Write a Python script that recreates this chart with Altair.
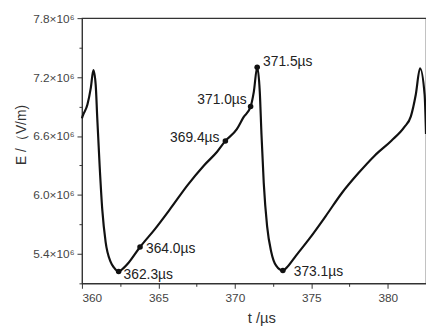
import altair as alt
import pandas as pd

# waveform (t in µs, E in 10^6 V/m)
t_vals = [360.00, 360.04, 360.36, 360.58, 360.75, 360.90, 361.00, 361.16, 361.33, 361.55,
          361.87, 362.10, 362.40, 362.75, 363.05, 363.80, 364.76, 365.83, 366.91, 367.98,
          368.84, 369.38, 370.13, 370.56, 371.03, 371.24, 371.46, 371.63, 371.74, 371.89,
          372.11, 372.38, 372.70, 373.14, 373.50, 373.99, 374.85, 375.92, 377.00, 378.07,
          379.14, 380.22, 381.08, 381.51, 381.83, 382.11, 382.41, 382.50]
e_vals = [6.78, 6.80, 6.92, 7.09, 7.27, 7.12, 6.79, 6.29, 5.85, 5.52,
          5.32, 5.26, 5.22, 5.26, 5.31, 5.47, 5.65, 5.87, 6.10, 6.30,
          6.44, 6.55, 6.67, 6.79, 6.90, 7.05, 7.30, 7.05, 6.62, 6.12,
          5.68, 5.42, 5.28, 5.23, 5.28, 5.38, 5.55, 5.78, 6.02, 6.22,
          6.40, 6.55, 6.69, 6.80, 7.02, 7.29, 7.02, 6.62]

# marked points
mark_t = [362.40, 363.80, 369.38, 371.03, 371.46, 373.14]
mark_e = [5.22, 5.47, 6.55, 6.90, 7.30, 5.23]
mark_text = ["362.3µs", "364.0µs", "369.4µs", "371.0µs", "371.5µs", "373.1µs"]

x_major = [360, 365, 370, 375, 380]
x_minor = [362.5, 367.5, 372.5, 377.5]
y_major = [5.4, 6.0, 6.6, 7.2, 7.8]
y_minor = [5.1, 5.7, 6.3, 6.9, 7.5]

curve = pd.DataFrame({"t": t_vals, "E": e_vals})
marks = pd.DataFrame({"t": mark_t, "E": mark_e, "label": mark_text})

FONT = "Liberation Sans"

xscale = alt.Scale(domain=[360, 382.5], nice=False, zero=False)
yscale = alt.Scale(domain=[5.1, 7.8], nice=False, zero=False)

xaxis = alt.Axis(
    values=x_major, format="d", orient="bottom",
    tickSize=5, grid=False, domainColor="#333", tickColor="#333",
    labelFont=FONT, labelFontSize=12, labelColor="#444", labelPadding=4,
    title="t /µs", titleFont=FONT, titleFontSize=15, titleFontWeight="normal",
    titleColor="#333", titleX=182, titleY=40, titleBaseline="alphabetic",
    titleAnchor="start", titleAlign="center",
)
yaxis = alt.Axis(
    values=y_major, orient="left",
    labelExpr="format(datum.value, '.1f') + '×10⁶'",
    tickSize=5, grid=False, domainColor="#333", tickColor="#333",
    labelFont=FONT, labelFontSize=12, labelColor="#444", labelPadding=3,
    title="E /（V/m)", titleFont=FONT, titleFontSize=14, titleFontWeight="normal",
    titleColor="#333", titleX=-61, titleY=118, titleBaseline="middle",
    titleAlign="center", titleAngle=270,
)
xaxis_minor = alt.Axis(values=x_minor, orient="bottom", labels=False, domain=False,
                       tickSize=3, tickColor="#333", grid=False, title=None)
yaxis_minor = alt.Axis(values=y_minor, orient="left", labels=False, domain=False,
                       tickSize=3, tickColor="#333", grid=False, title=None)

line = alt.Chart(curve).mark_line(color="#111", strokeWidth=2.2, interpolate="monotone").encode(
    x=alt.X("t:Q", scale=xscale, axis=xaxis),
    y=alt.Y("E:Q", scale=yscale, axis=yaxis),
)

pts = alt.Chart(marks).mark_circle(color="#111", size=32, opacity=1).encode(
    x=alt.X("t:Q", scale=xscale, axis=xaxis_minor),
    y=alt.Y("E:Q", scale=yscale, axis=yaxis_minor),
)

# label placement (style): align, dx, dy for each marked point
placement = [("left", 5, 4), ("left", 6, 2), ("right", -6, -2.5),
             ("right", -4, -6.5), ("left", 6, -5), ("left", 11, 1.5)]

texts = []
for lab, (al, dx, dy) in zip(mark_text, placement):
    texts.append(
        alt.Chart(marks).transform_filter(alt.datum.label == lab)
        .mark_text(align=al, baseline="middle", dx=dx, dy=dy, font=FONT,
                   fontSize=14, color="#222")
        .encode(x=alt.X("t:Q", scale=xscale, axis=None),
                y=alt.Y("E:Q", scale=yscale, axis=None),
                text="label:N")
    )

chart = alt.layer(line, pts, *texts).resolve_axis(
    x="independent", y="independent"
).properties(
    width=349, height=269,
    autosize=alt.AutoSizeParams(type="none"),
    padding={"left": 75, "top": 8, "right": 0, "bottom": 42},
    background="white",
).configure_view(stroke="#333", strokeWidth=1.2)

chart.save("out.html", embed_options={"renderer": "svg", "actions": False})
